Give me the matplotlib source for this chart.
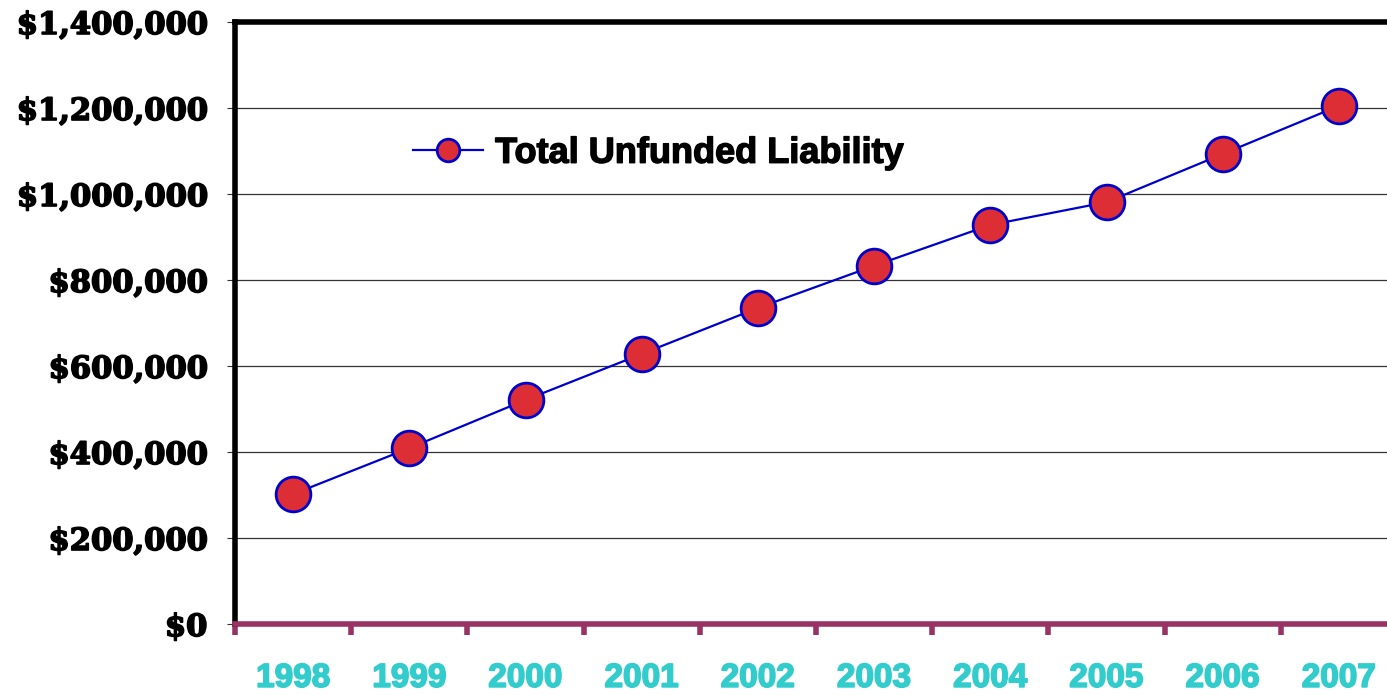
import matplotlib
matplotlib.use("Agg")
import matplotlib.pyplot as plt
from matplotlib.ticker import FuncFormatter, MultipleLocator, FixedLocator
import matplotlib.patheffects as pe

years = ['1998', '1999', '2000', '2001', '2002', '2003', '2004', '2005', '2006', '2007']
liability = [302000, 409000, 521000, 628000, 735000, 833000, 928000, 981000, 1093000, 1205000]

W, H = 1387, 695
fig = plt.figure(figsize=(W / 100, H / 100), dpi=100)
# plot area runs past the right edge of the picture, like the original
ax = fig.add_axes([235 / W, (H - 624) / H, (1397 - 235) / W, (624 - 22) / H])

x = [i + 0.5 for i in range(len(years))]
ax.plot(x, liability, color='#0000CC', lw=1.6, marker='o', markersize=25,
        markerfacecolor='#DD2E35', markeredgecolor='#0000CC', markeredgewidth=2,
        label='Total Unfunded Liability', zorder=3, clip_on=False)

ax.set_xlim(0, 10)
ax.set_ylim(0, 1400000)

ax.yaxis.set_major_locator(MultipleLocator(200000))
ax.yaxis.set_major_formatter(FuncFormatter(lambda v, p: '${:,.0f}'.format(v)))
ax.yaxis.grid(True, color='#333333', lw=0.9)
ax.set_axisbelow(True)
ax.tick_params(axis='y', length=6, width=0.8, color='#333333', pad=14)
for lab in ax.get_yticklabels():
    lab.set_fontfamily('DejaVu Serif')
    lab.set_fontweight('bold')
    lab.set_fontsize(22)
    lab.set_path_effects([pe.withStroke(linewidth=1.2, foreground='black')])

# category boundaries as ticks, year names in the middle
ax.xaxis.set_major_locator(FixedLocator(range(11)))
ax.xaxis.set_major_formatter(FuncFormatter(lambda v, p: ''))
ax.set_xticks(x, years, minor=True)
ax.tick_params(axis='x', which='major', length=8, width=4, color='#993366', direction='out')
ax.tick_params(axis='x', which='minor', length=0, pad=28, labelsize=24,
               labelcolor='#33CCCC')
for lab in ax.get_xticklabels(minor=True):
    lab.set_fontfamily('Liberation Sans')
    lab.set_fontweight('bold')
    lab.set_path_effects([pe.withStroke(linewidth=1.2, foreground='#33CCCC')])

for side in ['left', 'top']:
    ax.spines[side].set_color('black')
    ax.spines[side].set_linewidth(4)
ax.spines['right'].set_visible(False)
ax.spines['bottom'].set_color('#993366')
ax.spines['bottom'].set_linewidth(4)
ax.spines['bottom'].set_zorder(4)

leg = ax.legend(loc='center left', bbox_to_anchor=(0.153, 0.782), frameon=False,
                borderpad=0, borderaxespad=0,
                prop={'family': 'Liberation Sans', 'weight': 'bold', 'size': 26},
                handlelength=1.95, handletextpad=0.33, markerscale=0.65)
for t in leg.get_texts():
    t.set_path_effects([pe.withStroke(linewidth=1.0, foreground='black')])

fig.savefig('out.png', dpi=100)
